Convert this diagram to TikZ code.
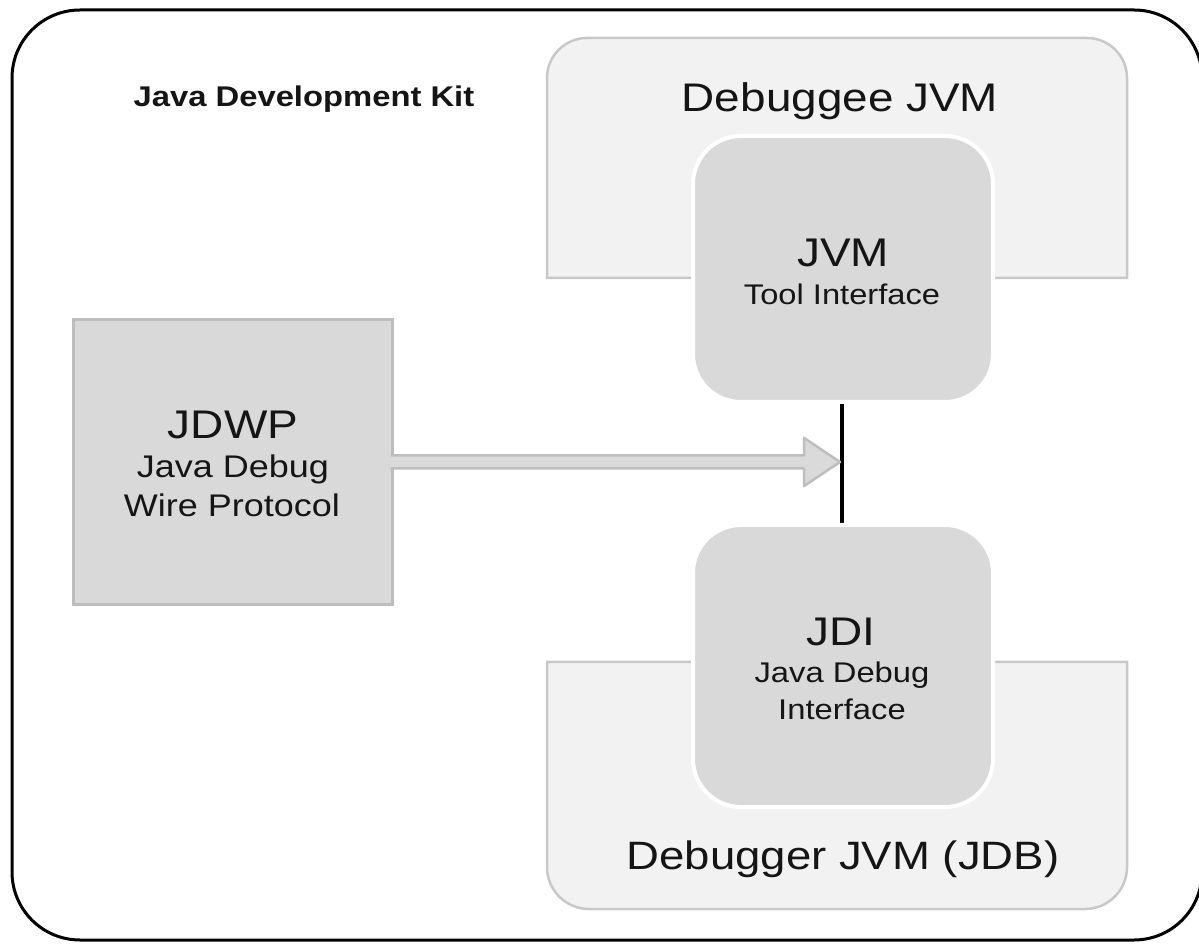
\documentclass[tikz,border=0pt]{standalone}
\usepackage{fontspec}
\setmainfont{Liberation Sans}[FakeStretch=1.15]
\usetikzlibrary{calc}
\definecolor{lightbox}{HTML}{F2F2F2}
\definecolor{midbox}{HTML}{D9D9D9}
\definecolor{boxline}{HTML}{C8C8C8}
\definecolor{jdwpline}{HTML}{BDBDBD}
\definecolor{arrowline}{HTML}{BEBEBE}
\definecolor{arrowfill}{HTML}{DADADA}
\definecolor{txt}{HTML}{151515}
\newcommand\setfs[1]{\fontsize{#1pt}{#1pt}\selectfont}
\begin{document}
\begin{tikzpicture}[x=1pt,y=1pt,
  outerbox/.style={draw=black, line width=3pt, rounded corners=68pt, minimum width=1190pt, minimum height=930pt, inner sep=0pt, outer sep=0pt},
  holder/.style={inner sep=0pt, outer sep=0pt},
  container/.style={fill=lightbox, draw=boxline, line width=2.5pt},
  innerbox/.style={fill=midbox, draw=white, line width=4pt, rounded corners=48pt, minimum width=300pt, inner sep=0pt, outer sep=0pt},
  jdwpbox/.style={fill=midbox, draw=jdwpline, line width=3pt, minimum width=319pt, minimum height=285pt, inner sep=0pt, outer sep=0pt},
  lbl/.style={anchor=base, inner sep=0pt, text=txt},
  link/.style={draw=black, line width=4pt},
  hollowarrow/.style={draw=arrowline, line width=2.5pt, line join=round}
]
\useasboundingbox (0,0) rectangle (1199,943);

% outer frame
\node[outerbox] (jdk) at (607,468) {};

% containers
\node[holder, minimum width=580pt, minimum height=240pt] (debuggee) at (837,785) {};
\node[holder, minimum width=580pt, minimum height=247pt] (debugger) at (837,157.5) {};
\draw[container] (debuggee.south west) -- ([yshift=-40pt]debuggee.north west)
  arc[start angle=180, end angle=90, radius=40pt] -- ([xshift=-40pt]debuggee.north east)
  arc[start angle=90, end angle=0, radius=40pt] -- (debuggee.south east) -- cycle;
\draw[container] (debugger.north west) -- ([yshift=42pt]debugger.south west)
  arc[start angle=180, end angle=270, radius=42pt] -- ([xshift=-42pt]debugger.south east)
  arc[start angle=270, end angle=360, radius=42pt] -- (debugger.north east) -- cycle;

% inner boxes
\node[holder, minimum width=300pt, minimum height=266pt] (jvmtipos) at (843,674) {};
\node[holder, minimum width=300pt, minimum height=282pt] (jdipos) at (843,277) {};
\draw[link] ([xshift=-1.5pt]jvmtipos.south) -- ([xshift=-1.5pt]jdipos.north);
\node[innerbox, minimum height=266pt] (jvmti) at (843,674) {};
\node[innerbox, minimum height=282pt] (jdi) at (843,277) {};

% JDWP box
\node[jdwpbox] (jdwp) at (232.5,480.5) {};

% hollow arrow
\coordinate (tip) at (840,481);
\coordinate (tail) at ($(jdwp.east |- tip)+(-1.5,0)$);
\fill[arrowfill] ($(tail)+(0,6.5)$) -- ($(tip)+(-36,6.5)$) -- ($(tip)+(-36,24)$) -- (tip)
  -- ($(tip)+(-36,-24)$) -- ($(tip)+(-36,-6.5)$) -- ($(tail)+(0,-6.5)$) -- cycle;
\draw[hollowarrow] ($(tail)+(0,6.5)$) -- ($(tip)+(-36,6.5)$) -- ($(tip)+(-36,24)$) -- (tip)
  -- ($(tip)+(-36,-24)$) -- ($(tip)+(-36,-6.5)$) -- ($(tail)+(0,-6.5)$);

% texts
\node[lbl, font=\bfseries\setfs{28.5}] (tjdk) at (304,836) {Java Development Kit};
\node[lbl, font=\setfs{39.9}] (tdebuggee) at (840,831) {Debuggee JVM};
\node[lbl, font=\setfs{40}] (tjvm) at (843,676) {JVM};
\node[lbl, font=\setfs{28.4}] (ttool) at (842,638) {Tool Interface};
\node[lbl, font=\setfs{40}] (tjdi) at (841,297) {JDI};
\node[lbl, font=\setfs{28.5}] (tjdi1) at (842,260) {Java Debug};
\node[lbl, font=\setfs{28.5}] (tjdi2) at (842,224) {Interface};
\node[lbl, font=\setfs{40}] (tjdwp) at (233,504) {JDWP};
\node[lbl, font=\setfs{31.3}] (tjdwp1) at (233,465) {Java Debug};
\node[lbl, font=\setfs{31.3}] (tjdwp2) at (232,426) {Wire Protocol};
\node[lbl, font=\setfs{39.6}] (tdebugger) at (843,74) {Debugger JVM (JDB)};
\end{tikzpicture}
\end{document}
